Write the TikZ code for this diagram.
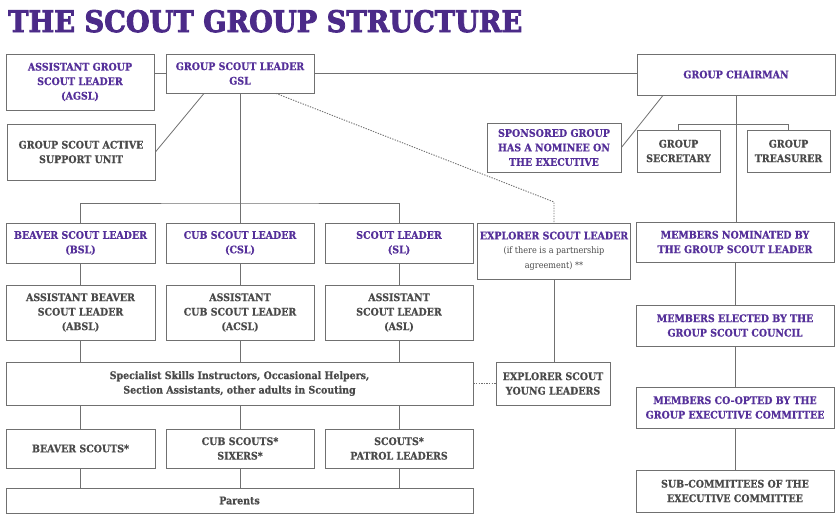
\documentclass[tikz,border=0pt]{standalone}
\usepackage{fontspec}
\setmainfont{DejaVu Serif}
\newfontfamily\cond{DejaVu Serif Condensed}[BoldFeatures={FakeBold=0.6}]
\newfontfamily\titlefont{DejaVu Serif}[BoldFeatures={FakeBold=3}]
\usetikzlibrary{shadows,calc}
\definecolor{scoutpurple}{HTML}{4B2A88}
\definecolor{boxpurple}{HTML}{55309A}
\definecolor{txtgray}{HTML}{4A4A4A}
\definecolor{linegray}{HTML}{707070}
\tikzset{
  box/.style={draw=linegray, line width=0.8pt, fill=white, align=center, inner sep=2pt,
    drop shadow={shadow xshift=1pt, shadow yshift=-1pt, fill=black!22, opacity=0.6},
    font=\cond\bfseries\fontsize{10.5}{14.5}\selectfont, text=txtgray},
  pbox/.style={box, text=boxpurple},
  link/.style={draw=linegray, line width=0.8pt},
  dotlink/.style={draw=linegray, line width=0.9pt, dash pattern=on 1.3pt off 1.3pt},
}
\begin{document}
\begin{tikzpicture}[x=1pt,y=-1pt]
\fill[white] (0,0) rectangle (840,520);
\useasboundingbox (0,0) rectangle (840,520);

\node[anchor=base west, inner sep=0, text=scoutpurple] (title) at (8,32)
  {\resizebox{514pt}{22pt}{\titlefont\bfseries THE SCOUT GROUP STRUCTURE}};

% top row
\node[pbox, minimum width=148, minimum height=56] (agsl) at (80,82) {ASSISTANT GROUP\\SCOUT LEADER\\(AGSL)};
\node[pbox, minimum width=148, minimum height=39] (gsl) at (240,73.5) {GROUP SCOUT LEADER\\GSL};
\node[box, minimum width=148, minimum height=56] (asu) at (81,152) {GROUP SCOUT ACTIVE\\SUPPORT UNIT};
\node[pbox, minimum width=198, minimum height=41] (gc) at (736,74.5) {GROUP CHAIRMAN};
\node[pbox, minimum width=134, minimum height=49] (spon) at (554,147.5) {SPONSORED GROUP\\HAS A NOMINEE ON\\THE EXECUTIVE};
\node[box, minimum width=83, minimum height=42] (sec) at (678.5,151) {GROUP\\SECRETARY};
\node[box, minimum width=83, minimum height=42] (tre) at (788.5,151) {GROUP\\TREASURER};

% leaders
\node[pbox, minimum width=149, minimum height=40] (bsl) at (80.5,243) {BEAVER SCOUT LEADER\\(BSL)};
\node[pbox, minimum width=148, minimum height=40] (csl) at (240,243) {CUB SCOUT LEADER\\(CSL)};
\node[pbox, minimum width=148, minimum height=40] (sl) at (399,243) {SCOUT LEADER\\(SL)};
\node[pbox, minimum width=148, minimum height=56] (esl) at (554,251)
  {EXPLORER SCOUT LEADER\\{\mdseries\fontsize{9}{14.5}\selectfont\color{txtgray}(if there is a partnership}\\{\mdseries\fontsize{9}{14.5}\selectfont\color{txtgray}agreement) **}};
\node[pbox, minimum width=198, minimum height=40] (mn) at (735,242) {MEMBERS NOMINATED BY\\THE GROUP SCOUT LEADER};

% assistants
\node[box, minimum width=149, minimum height=55] (absl) at (80.5,312.5) {ASSISTANT BEAVER\\SCOUT LEADER\\(ABSL)};
\node[box, minimum width=148, minimum height=55] (acsl) at (240,312.5) {ASSISTANT\\CUB SCOUT LEADER\\(ACSL)};
\node[box, minimum width=148, minimum height=55] (asl) at (399,312.5) {ASSISTANT\\SCOUT LEADER\\(ASL)};
\node[pbox, minimum width=198, minimum height=41] (me) at (735,325.5) {MEMBERS ELECTED BY THE\\GROUP SCOUT COUNCIL};

% specialists
\node[box, minimum width=467, minimum height=43] (spec) at (239.5,383.5) {Specialist Skills Instructors, Occasional Helpers,\\Section Assistants, other adults in Scouting};
\node[box, minimum width=114, minimum height=43] (eyl) at (553,383.5) {EXPLORER SCOUT\\YOUNG LEADERS};
\node[pbox, minimum width=198, minimum height=41] (mco) at (735,407.5) {MEMBERS CO-OPTED BY THE\\GROUP EXECUTIVE COMMITTEE};

% young people
\node[box, minimum width=149, minimum height=39] (bs) at (80.5,448.5) {BEAVER SCOUTS*};
\node[box, minimum width=148, minimum height=39] (cs) at (240,448.5) {CUB SCOUTS*\\SIXERS*};
\node[box, minimum width=148, minimum height=39] (ss) at (399,448.5) {SCOUTS*\\PATROL LEADERS};
\node[box, minimum width=198, minimum height=42] (sub) at (735,491) {SUB-COMMITTEES OF THE\\EXECUTIVE COMMITTEE};
\node[box, minimum width=467, minimum height=25] (par) at (239.5,500.5) {Parents};

% connectors
\coordinate (bus) at (240,203);
\coordinate (bend) at (0,202);
\draw[link] (agsl.east |- gsl.west) -- (gsl.west);
\draw[link] (gsl.east) -- (gsl.east -| gc.west);
\draw[link] ([xshift=-36pt]gsl.south) -- (asu.east);
\draw[dotlink] ([xshift=36pt]gsl.south) -- (esl.north |- bend) -- (esl.north);
\draw[link] (gsl.south) -- (bus);
\draw[link] (bsl.north) |- (bus) -| (sl.north);
\draw[link] (bus) -- (csl.north);
\foreach \a/\b/\c in {bsl/absl/bs, csl/acsl/cs, sl/asl/ss}{
  \draw[link] (\a.south) -- (\b.north);
  \draw[link] (\b.south) -- (\b.south |- spec.north);
  \draw[link] (\c.north |- spec.south) -- (\c.north);
  \draw[link] (\c.south) -- (\c.south |- par.north);
}
\draw[link] (esl.south) -- (esl.south |- eyl.north);
\draw[dotlink] (spec.east) -- (spec.east -| eyl.west);
\draw[link] (gc.south) -- (gc.south |- mn.north);
\draw[link] ([xshift=-73pt]gc.south) -- (spon.east);
\draw[link] (sec.north) -- ++(0,-5) -| (tre.north);
\draw[link] (mn) -- (me);
\draw[link] (me) -- (mco);
\draw[link] (mco) -- (sub);
\end{tikzpicture}
\end{document}
